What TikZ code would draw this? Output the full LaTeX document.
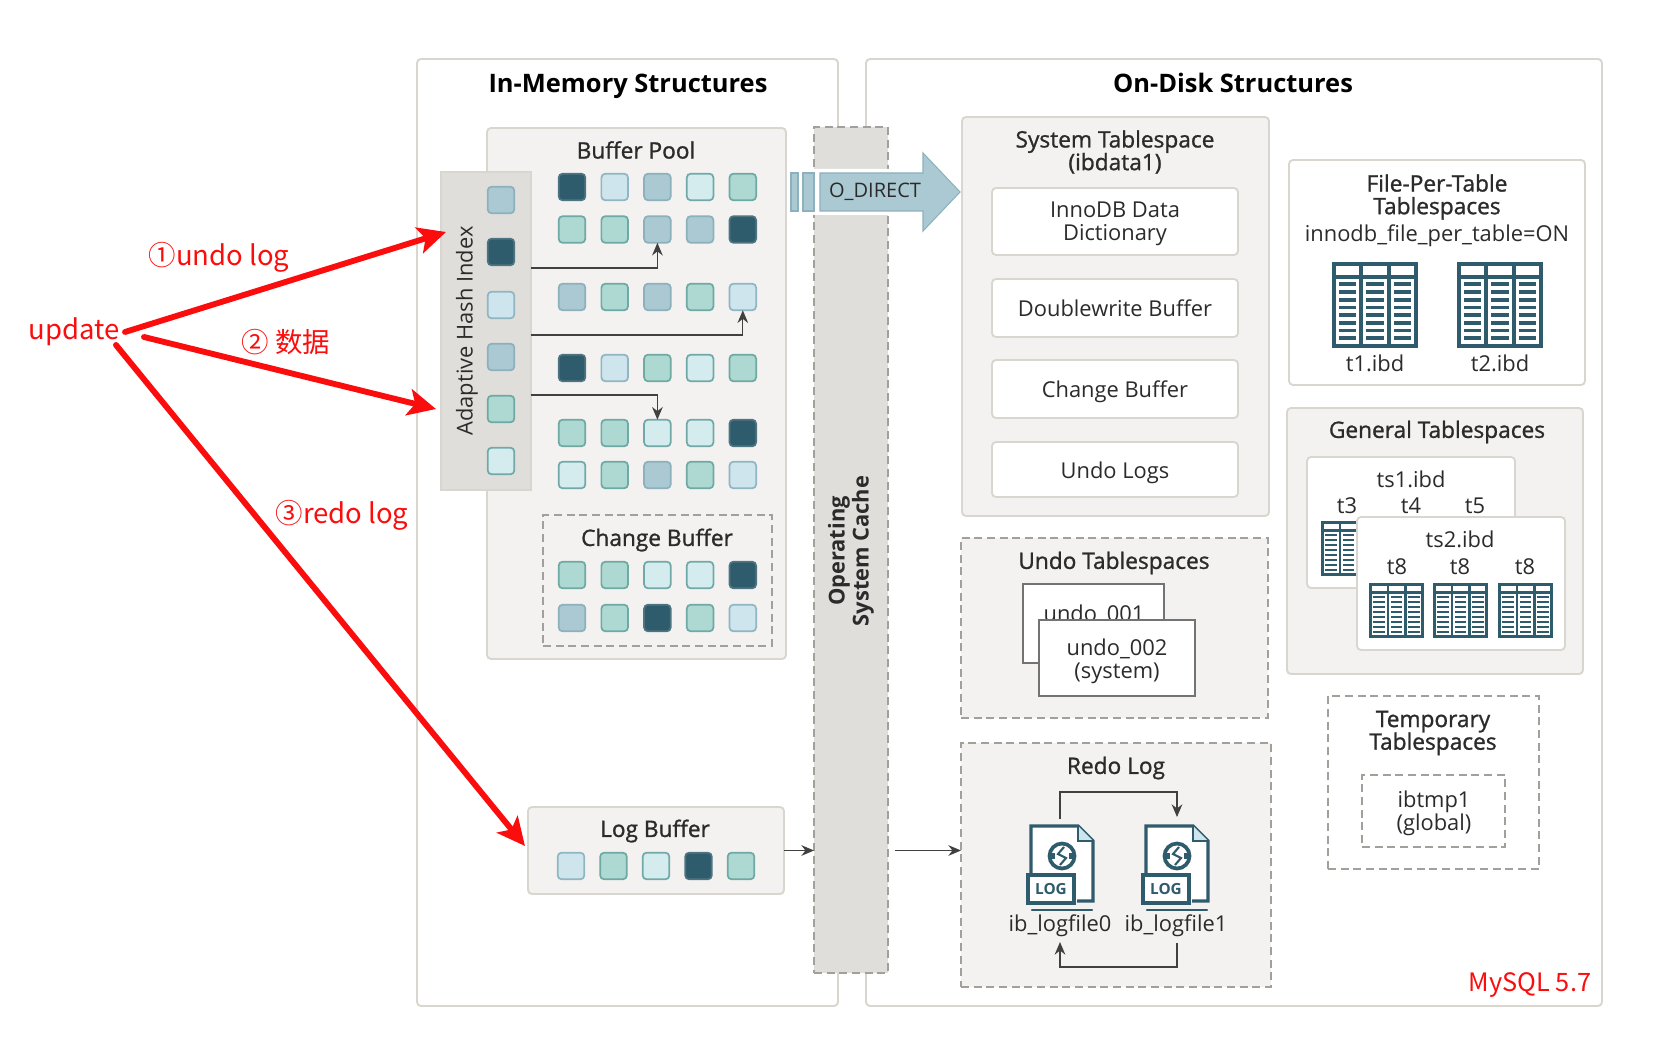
\documentclass[tikz,border=0pt]{standalone}
\usepackage{fontspec}
\setmainfont{Open Sans}
\newfontfamily\semi[FakeBold=1.1]{Open Sans}
\newfontfamily\cjk{Noto Sans CJK SC}
\usetikzlibrary{arrows.meta}
\definecolor{cdark}{HTML}{2F5C6C}
\definecolor{cblue}{HTML}{CFE5EE}
\definecolor{cblueb}{HTML}{8FB6C2}
\definecolor{cmid}{HTML}{ABC9D2}
\definecolor{cmidb}{HTML}{8DB1BC}
\definecolor{cpale}{HTML}{D5ECEE}
\definecolor{cpaleb}{HTML}{70A9A8}
\definecolor{cteal}{HTML}{AED8D2}
\definecolor{ctealb}{HTML}{6FA9A4}
\definecolor{cpanel}{HTML}{F3F2F0}
\definecolor{cedge}{HTML}{D9D6CF}
\definecolor{cos}{HTML}{DFDEDA}
\definecolor{cdash}{HTML}{A3A09B}
\definecolor{ctext}{HTML}{2B2B2B}
\definecolor{credx}{HTML}{FB0D0D}
\tikzset{
  x=0.75pt,y=-0.75pt,
  whitebox/.style={draw=cedge,line width=1.4pt,rounded corners=3pt,fill=white,inner sep=0,outer sep=0},
  greybox/.style={whitebox,fill=cpanel},
  dashbox/.style={draw=cdash,line width=1.2pt,dash pattern=on 6pt off 3.5pt,fill=cpanel,inner sep=0,outer sep=0},
  dashwhite/.style={dashbox,fill=white},
  hashbox/.style={draw=cedge,line width=1pt,fill=cos,inner sep=0,outer sep=0},
  osbox/.style={draw=cdash,line width=1.2pt,dash pattern=on 6pt off 3.5pt,fill=cos,inner sep=0,outer sep=0},
  cellbase/.style={minimum size=20pt,inner sep=0,outer sep=0,rounded corners=3pt,line width=1.3pt},
  D/.style={cellbase,draw=cdark!85,fill=cdark},
  B/.style={cellbase,draw=cblueb,fill=cblue},
  M/.style={cellbase,draw=cmidb,fill=cmid},
  P/.style={cellbase,draw=cpaleb,fill=cpale},
  T/.style={cellbase,draw=ctealb,fill=cteal},
  lab/.style={text=ctext,font=\fontsize{16.4}{17}\selectfont,align=center,inner sep=0},
  semilab/.style={text=ctext,font=\fontsize{17}{17}\selectfont\semi,align=center,inner sep=0},
  title/.style={text=black,font=\fontsize{19.1}{20}\selectfont\bfseries,inner sep=0},
  conn/.style={draw=ctext!90,line width=1pt,-{Stealth[length=9.5pt,width=8pt]}},
  redarrow/.style={draw=credx,line width=4.4pt,line cap=round,-{Stealth[length=21pt,width=20pt,inset=5pt]}},
  redlab/.style={text=credx,font=\fontsize{20.6}{22}\selectfont\cjk,inner sep=0},
}
\newcommand\pbox[6]{\pgfmathsetmacro\pw{(#5-#3)*0.75}\pgfmathsetmacro\ph{(#6-#4)*0.75}%
  \node[#1,minimum width=\pw pt,minimum height=\ph pt,anchor=north west] (#2) at (#3,#4) {};}
% table icon: x, y, scale
\newcommand\tbl[3]{%
  \begin{scope}[shift={(#1,#2)},scale=#3]
    \fill[cdark] (0,0) rectangle (86,86);
    \foreach \c in {4,31.3,58.6}{
      \fill[white] (\c,4) rectangle ++(23.4,9);
      \fill[white] (\c,17) rectangle ++(23.4,65);
      \foreach \r in {0,...,7}{
        \fill[cdark] ({\c+3},{20.5+\r*7.7}) rectangle ++(17.4,3.6);
      }
    }
  \end{scope}}
% log file icon: x, y
\newcommand\logicon[2]{%
  \begin{scope}[shift={(#1,#2)}]
    \fill[white] (0,0) -- (47,0) -- (62,15) -- (62,75) -- (0,75) -- cycle;
    \draw[cdark,line width=2.6pt,line join=miter] (0,48) -- (0,0) -- (47,0) -- (62,15) -- (62,75) -- (46,75);
    \draw[cdark,line width=1.6pt,fill=cblue] (47,0) -- (47,15) -- (62,15);
    \draw[cdark,line width=2.8pt,fill=white] (31,30) circle (12.5);
    \draw[cdark,line width=1.6pt] (33,21) -- (27,28) -- (35,32) -- (29,39);
    \fill[cdark] (19,27) rectangle (24,33);
    \fill[cdark] (38,27) rectangle (43,33);
    \draw[cdark,line width=2.4pt,fill=white] (-3,49) rectangle (43,77);
    \draw[cdark,line width=1.8pt,line cap=round] (1,84) -- (61,84);
    \node[text=cdark,font=\fontsize{11.5}{12}\selectfont\bfseries,inner sep=0] at (20,63) {LOG};
  \end{scope}}
\begin{document}
\begin{tikzpicture}
\useasboundingbox (0,0) rectangle (1654,1038);
\fill[white] (0,0) rectangle (1654,1038);
% outer panels
\pbox{whitebox}{mem}{417}{59}{838}{1006}
\pbox{whitebox}{disk}{866}{59}{1602}{1006}
\node[title] (memt) at (628,86) {In-Memory Structures};
\node[title] (diskt) at (1233,83) {On-Disk Structures};
% buffer pool
\pbox{greybox}{pool}{487}{128}{786}{659}
\node[semilab] (poolt) at (636,150) {Buffer Pool};
% OS cache
\pbox{osbox}{os}{814}{127}{888}{973}
\node[semilab,rotate=90,font=\fontsize{16.4}{18}\selectfont\bfseries] (ost) at (851,551) {Operating\\System Cache};
% hash
\pbox{hashbox}{h}{441}{172}{531}{490}
\node[lab,rotate=90] (ht) at (467,331) {Adaptive Hash Index};
\node[M] (h1) at (501,200) {};
\node[D] (h2) at (501,252) {};
\node[B] (h3) at (501,305) {};
\node[M] (h4) at (501,357) {};
\node[T] (h5) at (501,409) {};
\node[P] (h6) at (501,461) {};
% buffer pool cells
\foreach \s/\n [count=\i] in {D/c11,B/c12,M/c13,P/c14,T/c15}{\node[\s] (\n) at ({572+(\i-1)*42.7},187) {};}
\foreach \s/\n [count=\i] in {T/c21,T/c22,M/c23,M/c24,D/c25}{\node[\s] (\n) at ({572+(\i-1)*42.7},229.5) {};}
\foreach \s/\n [count=\i] in {M/c31,T/c32,M/c33,T/c34,B/c35}{\node[\s] (\n) at ({572+(\i-1)*42.7},297) {};}
\foreach \s/\n [count=\i] in {D/c41,B/c42,T/c43,P/c44,T/c45}{\node[\s] (\n) at ({572+(\i-1)*42.7},368) {};}
\foreach \s/\n [count=\i] in {T/c51,T/c52,P/c53,P/c54,D/c55}{\node[\s] (\n) at ({572+(\i-1)*42.7},433) {};}
\foreach \s/\n [count=\i] in {P/c61,T/c62,M/c63,T/c64,B/c65}{\node[\s] (\n) at ({572+(\i-1)*42.7},475) {};}
\draw[conn] (h.east |- 0,268) -| (c23.south);
\draw[conn] (h.east |- 0,335) -| (c35.south);
\draw[conn] (h.east |- 0,395) -| (c53.north);
% change buffer
\pbox{dashwhite,fill=cpanel}{cb}{543}{515}{772}{646}
\node[semilab] (cbt) at (657,540) {Change Buffer};
\foreach \s/\n [count=\i] in {T/d11,T/d12,P/d13,P/d14,D/d15}{\node[\s] (\n) at ({572+(\i-1)*42.7},575) {};}
\foreach \s/\n [count=\i] in {M/d21,T/d22,D/d23,T/d24,B/d25}{\node[\s] (\n) at ({572+(\i-1)*42.7},618) {};}
% log buffer
\pbox{greybox}{lb}{528}{807}{784}{894}
\node[semilab] (lbt) at (655,831) {Log Buffer};
\foreach \s/\n [count=\i] in {B/l1,T/l2,P/l3,D/l4,T/l5}{\node[\s] (\n) at ({571+(\i-1)*42.5},866) {};}
% O_DIRECT
\fill[white] (787,169) rectangle (820,215);
\fill[white] (816,169) -- (919,169) -- (919,147) -- (966,192) -- (919,237) -- (919,215) -- (816,215) -- cycle;
\draw[cmidb,line width=0.8pt,fill=cmid] (791,173) rectangle (798,211);
\draw[cmidb,line width=0.8pt,fill=cmid] (803,173) rectangle (814,211);
\draw[cmidb,line width=0.8pt,fill=cmid] (820,173) -- (923,173) -- (923,153) -- (960,192) -- (923,231) -- (923,211) -- (820,211) -- cycle;
\node[lab,font=\fontsize{15}{15}\selectfont] (od) at (875,192) {O\_DIRECT};
% system tablespace
\pbox{greybox}{sys}{962}{117}{1269}{516}
\node[semilab] (syst) at (1115,152) {System Tablespace\\(ibdata1)};
\pbox{whitebox}{s1}{992}{188}{1238}{255}
\node[lab] (s1t) at (1115,224) {InnoDB Data\\Dictionary};
\pbox{whitebox}{s2}{992}{279}{1238}{337}
\node[lab] (s2t) at (s2) {Doublewrite Buffer};
\pbox{whitebox}{s3}{992}{360}{1238}{418}
\node[lab] (s3t) at (1115,392) {Change Buffer};
\pbox{whitebox}{s4}{992}{442}{1238}{497}
\node[lab] (s4t) at (1115,473) {Undo Logs};
% undo tablespaces
\pbox{dashbox}{ut}{961}{538}{1268}{718}
\node[semilab] (utt) at (1114,563) {Undo Tablespaces};
\pbox{whitebox,rounded corners=0pt,draw=black!55,line width=.8pt}{u1}{1023}{584}{1164}{663}
\node[lab] (u1t) at (1094,615) {undo\_001};
\pbox{whitebox,rounded corners=0pt,draw=black!55,line width=.8pt}{u2}{1039}{620}{1195}{696}
\node[lab] (u2t) at (1117,661) {undo\_002\\(system)};
% redo log
\pbox{dashbox}{rl}{961}{743}{1271}{987}
\node[semilab] (rlt) at (1116,768) {Redo Log};
\logicon{1031}{826}
\logicon{1146}{826}
\coordinate (f0) at (1060,819);
\coordinate (f1) at (1177,817);
\coordinate (f1b) at (1177,943);
\coordinate (f0b) at (1060,942);
\node[lab] (lf0) at (1060,926) {ib\_logfile0};
\node[lab] (lf1) at (1176,926) {ib\_logfile1};
\draw[conn] (f0) -- (1060,792) -- (1177,792) -- (f1);
\draw[conn] (f1b) -- (1177,967) -- (1060,967) -- (f0b);
\draw[conn] (lb.east) -- (os.west |- lb.east);
\draw[conn] ([xshift=5pt]os.east |- lb.east) -- (rl.west |- lb.east);
% file per table
\pbox{whitebox}{fp}{1289}{160}{1585}{385}
\node[semilab] (fpt) at (1437,197) {File-Per-Table\\Tablespaces};
\node[lab] (fpv) at (1437,236) {innodb\_file\_per\_table=ON};
\tbl{1332}{262}{1}
\tbl{1457}{262}{1}
\node[lab] (t1) at (1375,363) {t1.ibd};
\node[lab] (t2) at (1500,363) {t2.ibd};
% general
\pbox{greybox}{gt}{1287}{408}{1583}{674}
\node[semilab] (gtt) at (1437,432) {General Tablespaces};
\pbox{whitebox}{ts1}{1307}{457}{1515}{588}
\node[lab] (ts1t) at (1411,479) {ts1.ibd};
\node[lab] (t3) at (1347,506) {t3};
\node[lab] (t4) at (1411,506) {t4};
\node[lab] (t5) at (1475,506) {t5};
\tbl{1321}{521}{0.64}
\pbox{whitebox}{ts2}{1357}{517}{1565}{650}
\node[lab] (ts2t) at (1460,539) {ts2.ibd};
\node[lab] (t81) at (1397,567) {t8};
\node[lab] (t82) at (1460,567) {t8};
\node[lab] (t83) at (1525,567) {t8};
\tbl{1369}{583}{0.64}
\tbl{1433}{583}{0.64}
\tbl{1498}{583}{0.64}
% temporary
\pbox{dashwhite}{tmp}{1328}{696}{1539}{869}
\node[semilab] (tmpt) at (1433,733) {Temporary\\Tablespaces};
\pbox{dashwhite}{ib}{1362}{775}{1505}{847}
\node[lab] (ibt) at (1434,813) {ibtmp1\\(global)};
% red annotations
\node[redlab] (upd) at (74,332) {update};
\node[redlab] (r1) at (219,257) {①undo log};
\node[redlab] (r2) at (286,342) {② 数据};
\node[redlab] (r3) at (342,515) {③redo log};
\node[redlab,font=\fontsize{19}{20}\selectfont\cjk] (ver) at (1530,985) {MySQL 5.7};
\coordinate (a1) at (125,332);
\coordinate (a1t) at (446,232);
\coordinate (a2) at (144,337);
\coordinate (a2t) at (436,409);
\coordinate (a3) at (116,345);
\coordinate (a3t) at (525,846);
\draw[redarrow] (a1) -- (a1t);
\draw[redarrow] (a2) -- (a2t);
\draw[redarrow] (a3) -- (a3t);
\end{tikzpicture}
\end{document}
